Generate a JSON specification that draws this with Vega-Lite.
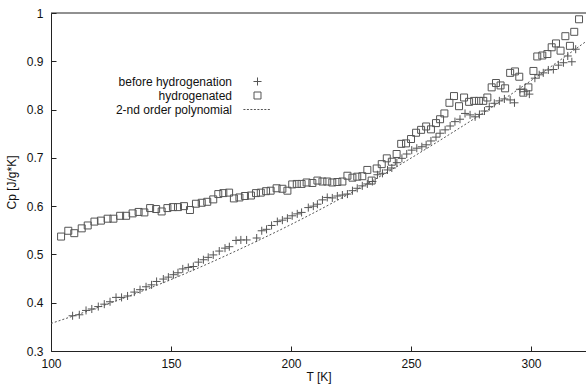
{
  "$schema": "https://vega.github.io/schema/vega-lite/v6.json",
  "width": 535,
  "height": 338,
  "autosize": "none",
  "padding": {"left": 51, "top": 13, "right": 0, "bottom": 34},
  "background": "white",
  "config": {
    "view": {"stroke": null},
    "font": "Liberation Sans",
    "axis": {
      "grid": false,
      "labelFlush": false,
      "domainColor": "#222",
      "tickColor": "#222",
      "tickSize": -5,
      "labelFont": "Liberation Sans",
      "labelFontSize": 12,
      "labelColor": "#111",
      "titleFont": "Liberation Sans",
      "titleFontSize": 12,
      "titleFontWeight": "normal",
      "titleColor": "#111"
    }
  },
  "datasets": {
    "measured": [
      {"T": 104.2, "Cp": 0.537, "series": "hydrogenated"},
      {"T": 107.2, "Cp": 0.549, "series": "hydrogenated"},
      {"T": 109.7, "Cp": 0.544, "series": "hydrogenated"},
      {"T": 112.8, "Cp": 0.554, "series": "hydrogenated"},
      {"T": 115.3, "Cp": 0.560, "series": "hydrogenated"},
      {"T": 118.1, "Cp": 0.568, "series": "hydrogenated"},
      {"T": 120.8, "Cp": 0.570, "series": "hydrogenated"},
      {"T": 123.6, "Cp": 0.574, "series": "hydrogenated"},
      {"T": 126.0, "Cp": 0.574, "series": "hydrogenated"},
      {"T": 128.8, "Cp": 0.580, "series": "hydrogenated"},
      {"T": 131.3, "Cp": 0.580, "series": "hydrogenated"},
      {"T": 134.0, "Cp": 0.585, "series": "hydrogenated"},
      {"T": 136.5, "Cp": 0.588, "series": "hydrogenated"},
      {"T": 138.9, "Cp": 0.587, "series": "hydrogenated"},
      {"T": 141.3, "Cp": 0.596, "series": "hydrogenated"},
      {"T": 143.8, "Cp": 0.594, "series": "hydrogenated"},
      {"T": 146.1, "Cp": 0.589, "series": "hydrogenated"},
      {"T": 148.5, "Cp": 0.596, "series": "hydrogenated"},
      {"T": 150.8, "Cp": 0.598, "series": "hydrogenated"},
      {"T": 152.9, "Cp": 0.598, "series": "hydrogenated"},
      {"T": 155.4, "Cp": 0.600, "series": "hydrogenated"},
      {"T": 157.9, "Cp": 0.592, "series": "hydrogenated"},
      {"T": 160.4, "Cp": 0.605, "series": "hydrogenated"},
      {"T": 162.8, "Cp": 0.607, "series": "hydrogenated"},
      {"T": 165.1, "Cp": 0.609, "series": "hydrogenated"},
      {"T": 167.6, "Cp": 0.614, "series": "hydrogenated"},
      {"T": 169.7, "Cp": 0.625, "series": "hydrogenated"},
      {"T": 171.8, "Cp": 0.627, "series": "hydrogenated"},
      {"T": 174.2, "Cp": 0.628, "series": "hydrogenated"},
      {"T": 176.2, "Cp": 0.616, "series": "hydrogenated"},
      {"T": 178.5, "Cp": 0.618, "series": "hydrogenated"},
      {"T": 180.8, "Cp": 0.621, "series": "hydrogenated"},
      {"T": 183.3, "Cp": 0.622, "series": "hydrogenated"},
      {"T": 185.4, "Cp": 0.627, "series": "hydrogenated"},
      {"T": 187.4, "Cp": 0.628, "series": "hydrogenated"},
      {"T": 189.6, "Cp": 0.631, "series": "hydrogenated"},
      {"T": 191.5, "Cp": 0.632, "series": "hydrogenated"},
      {"T": 194.0, "Cp": 0.637, "series": "hydrogenated"},
      {"T": 196.4, "Cp": 0.636, "series": "hydrogenated"},
      {"T": 198.5, "Cp": 0.632, "series": "hydrogenated"},
      {"T": 200.5, "Cp": 0.645, "series": "hydrogenated"},
      {"T": 202.4, "Cp": 0.646, "series": "hydrogenated"},
      {"T": 204.4, "Cp": 0.646, "series": "hydrogenated"},
      {"T": 206.5, "Cp": 0.649, "series": "hydrogenated"},
      {"T": 208.9, "Cp": 0.648, "series": "hydrogenated"},
      {"T": 211.0, "Cp": 0.653, "series": "hydrogenated"},
      {"T": 213.1, "Cp": 0.651, "series": "hydrogenated"},
      {"T": 215.1, "Cp": 0.651, "series": "hydrogenated"},
      {"T": 217.2, "Cp": 0.649, "series": "hydrogenated"},
      {"T": 219.3, "Cp": 0.650, "series": "hydrogenated"},
      {"T": 221.4, "Cp": 0.651, "series": "hydrogenated"},
      {"T": 223.5, "Cp": 0.663, "series": "hydrogenated"},
      {"T": 225.6, "Cp": 0.659, "series": "hydrogenated"},
      {"T": 227.6, "Cp": 0.661, "series": "hydrogenated"},
      {"T": 229.7, "Cp": 0.662, "series": "hydrogenated"},
      {"T": 231.8, "Cp": 0.675, "series": "hydrogenated"},
      {"T": 233.6, "Cp": 0.653, "series": "hydrogenated"},
      {"T": 235.7, "Cp": 0.678, "series": "hydrogenated"},
      {"T": 237.8, "Cp": 0.687, "series": "hydrogenated"},
      {"T": 239.9, "Cp": 0.699, "series": "hydrogenated"},
      {"T": 242.0, "Cp": 0.692, "series": "hydrogenated"},
      {"T": 244.0, "Cp": 0.708, "series": "hydrogenated"},
      {"T": 245.9, "Cp": 0.729, "series": "hydrogenated"},
      {"T": 247.9, "Cp": 0.730, "series": "hydrogenated"},
      {"T": 250.0, "Cp": 0.739, "series": "hydrogenated"},
      {"T": 252.1, "Cp": 0.752, "series": "hydrogenated"},
      {"T": 254.2, "Cp": 0.758, "series": "hydrogenated"},
      {"T": 256.3, "Cp": 0.765, "series": "hydrogenated"},
      {"T": 258.3, "Cp": 0.759, "series": "hydrogenated"},
      {"T": 260.4, "Cp": 0.772, "series": "hydrogenated"},
      {"T": 262.1, "Cp": 0.780, "series": "hydrogenated"},
      {"T": 263.9, "Cp": 0.792, "series": "hydrogenated"},
      {"T": 266.0, "Cp": 0.814, "series": "hydrogenated"},
      {"T": 267.9, "Cp": 0.828, "series": "hydrogenated"},
      {"T": 270.0, "Cp": 0.807, "series": "hydrogenated"},
      {"T": 272.1, "Cp": 0.825, "series": "hydrogenated"},
      {"T": 274.2, "Cp": 0.816, "series": "hydrogenated"},
      {"T": 276.3, "Cp": 0.818, "series": "hydrogenated"},
      {"T": 278.3, "Cp": 0.818, "series": "hydrogenated"},
      {"T": 280.1, "Cp": 0.818, "series": "hydrogenated"},
      {"T": 281.8, "Cp": 0.825, "series": "hydrogenated"},
      {"T": 283.6, "Cp": 0.846, "series": "hydrogenated"},
      {"T": 285.4, "Cp": 0.855, "series": "hydrogenated"},
      {"T": 287.3, "Cp": 0.850, "series": "hydrogenated"},
      {"T": 289.2, "Cp": 0.844, "series": "hydrogenated"},
      {"T": 291.3, "Cp": 0.876, "series": "hydrogenated"},
      {"T": 293.3, "Cp": 0.879, "series": "hydrogenated"},
      {"T": 295.1, "Cp": 0.868, "series": "hydrogenated"},
      {"T": 296.8, "Cp": 0.835, "series": "hydrogenated"},
      {"T": 298.9, "Cp": 0.846, "series": "hydrogenated"},
      {"T": 301.0, "Cp": 0.880, "series": "hydrogenated"},
      {"T": 302.6, "Cp": 0.910, "series": "hydrogenated"},
      {"T": 304.7, "Cp": 0.912, "series": "hydrogenated"},
      {"T": 306.8, "Cp": 0.915, "series": "hydrogenated"},
      {"T": 308.6, "Cp": 0.929, "series": "hydrogenated"},
      {"T": 310.4, "Cp": 0.937, "series": "hydrogenated"},
      {"T": 312.3, "Cp": 0.922, "series": "hydrogenated"},
      {"T": 314.3, "Cp": 0.952, "series": "hydrogenated"},
      {"T": 316.2, "Cp": 0.932, "series": "hydrogenated"},
      {"T": 318.0, "Cp": 0.961, "series": "hydrogenated"},
      {"T": 320.0, "Cp": 0.987, "series": "hydrogenated"},
      {"T": 109.0, "Cp": 0.373, "series": "before hydrogenation"},
      {"T": 111.8, "Cp": 0.375, "series": "before hydrogenation"},
      {"T": 114.6, "Cp": 0.384, "series": "before hydrogenation"},
      {"T": 117.0, "Cp": 0.387, "series": "before hydrogenation"},
      {"T": 119.7, "Cp": 0.392, "series": "before hydrogenation"},
      {"T": 122.2, "Cp": 0.397, "series": "before hydrogenation"},
      {"T": 124.6, "Cp": 0.402, "series": "before hydrogenation"},
      {"T": 127.1, "Cp": 0.411, "series": "before hydrogenation"},
      {"T": 129.4, "Cp": 0.411, "series": "before hydrogenation"},
      {"T": 131.9, "Cp": 0.414, "series": "before hydrogenation"},
      {"T": 134.7, "Cp": 0.422, "series": "before hydrogenation"},
      {"T": 137.1, "Cp": 0.427, "series": "before hydrogenation"},
      {"T": 139.6, "Cp": 0.433, "series": "before hydrogenation"},
      {"T": 141.9, "Cp": 0.437, "series": "before hydrogenation"},
      {"T": 144.0, "Cp": 0.444, "series": "before hydrogenation"},
      {"T": 146.8, "Cp": 0.449, "series": "before hydrogenation"},
      {"T": 148.9, "Cp": 0.453, "series": "before hydrogenation"},
      {"T": 151.0, "Cp": 0.458, "series": "before hydrogenation"},
      {"T": 152.9, "Cp": 0.462, "series": "before hydrogenation"},
      {"T": 154.9, "Cp": 0.470, "series": "before hydrogenation"},
      {"T": 157.2, "Cp": 0.473, "series": "before hydrogenation"},
      {"T": 159.3, "Cp": 0.475, "series": "before hydrogenation"},
      {"T": 161.4, "Cp": 0.484, "series": "before hydrogenation"},
      {"T": 163.5, "Cp": 0.489, "series": "before hydrogenation"},
      {"T": 165.5, "Cp": 0.494, "series": "before hydrogenation"},
      {"T": 167.6, "Cp": 0.499, "series": "before hydrogenation"},
      {"T": 170.1, "Cp": 0.507, "series": "before hydrogenation"},
      {"T": 172.5, "Cp": 0.513, "series": "before hydrogenation"},
      {"T": 174.3, "Cp": 0.516, "series": "before hydrogenation"},
      {"T": 177.1, "Cp": 0.529, "series": "before hydrogenation"},
      {"T": 179.1, "Cp": 0.530, "series": "before hydrogenation"},
      {"T": 181.5, "Cp": 0.530, "series": "before hydrogenation"},
      {"T": 185.7, "Cp": 0.534, "series": "before hydrogenation"},
      {"T": 187.8, "Cp": 0.549, "series": "before hydrogenation"},
      {"T": 189.8, "Cp": 0.552, "series": "before hydrogenation"},
      {"T": 191.9, "Cp": 0.560, "series": "before hydrogenation"},
      {"T": 194.3, "Cp": 0.568, "series": "before hydrogenation"},
      {"T": 196.4, "Cp": 0.571, "series": "before hydrogenation"},
      {"T": 198.5, "Cp": 0.575, "series": "before hydrogenation"},
      {"T": 200.5, "Cp": 0.580, "series": "before hydrogenation"},
      {"T": 202.6, "Cp": 0.584, "series": "before hydrogenation"},
      {"T": 204.4, "Cp": 0.587, "series": "before hydrogenation"},
      {"T": 207.2, "Cp": 0.597, "series": "before hydrogenation"},
      {"T": 209.3, "Cp": 0.600, "series": "before hydrogenation"},
      {"T": 211.0, "Cp": 0.604, "series": "before hydrogenation"},
      {"T": 213.1, "Cp": 0.613, "series": "before hydrogenation"},
      {"T": 215.1, "Cp": 0.618, "series": "before hydrogenation"},
      {"T": 217.2, "Cp": 0.617, "series": "before hydrogenation"},
      {"T": 219.3, "Cp": 0.621, "series": "before hydrogenation"},
      {"T": 221.4, "Cp": 0.623, "series": "before hydrogenation"},
      {"T": 223.5, "Cp": 0.625, "series": "before hydrogenation"},
      {"T": 225.6, "Cp": 0.632, "series": "before hydrogenation"},
      {"T": 227.6, "Cp": 0.637, "series": "before hydrogenation"},
      {"T": 229.7, "Cp": 0.642, "series": "before hydrogenation"},
      {"T": 231.8, "Cp": 0.646, "series": "before hydrogenation"},
      {"T": 233.9, "Cp": 0.651, "series": "before hydrogenation"},
      {"T": 236.0, "Cp": 0.665, "series": "before hydrogenation"},
      {"T": 238.1, "Cp": 0.668, "series": "before hydrogenation"},
      {"T": 240.2, "Cp": 0.675, "series": "before hydrogenation"},
      {"T": 242.0, "Cp": 0.679, "series": "before hydrogenation"},
      {"T": 244.1, "Cp": 0.690, "series": "before hydrogenation"},
      {"T": 246.2, "Cp": 0.699, "series": "before hydrogenation"},
      {"T": 248.2, "Cp": 0.708, "series": "before hydrogenation"},
      {"T": 250.3, "Cp": 0.716, "series": "before hydrogenation"},
      {"T": 252.4, "Cp": 0.720, "series": "before hydrogenation"},
      {"T": 254.5, "Cp": 0.723, "series": "before hydrogenation"},
      {"T": 256.3, "Cp": 0.727, "series": "before hydrogenation"},
      {"T": 258.3, "Cp": 0.735, "series": "before hydrogenation"},
      {"T": 260.4, "Cp": 0.743, "series": "before hydrogenation"},
      {"T": 262.1, "Cp": 0.751, "series": "before hydrogenation"},
      {"T": 264.2, "Cp": 0.758, "series": "before hydrogenation"},
      {"T": 266.3, "Cp": 0.766, "series": "before hydrogenation"},
      {"T": 268.3, "Cp": 0.775, "series": "before hydrogenation"},
      {"T": 270.4, "Cp": 0.780, "series": "before hydrogenation"},
      {"T": 272.5, "Cp": 0.792, "series": "before hydrogenation"},
      {"T": 274.6, "Cp": 0.789, "series": "before hydrogenation"},
      {"T": 276.7, "Cp": 0.785, "series": "before hydrogenation"},
      {"T": 278.5, "Cp": 0.790, "series": "before hydrogenation"},
      {"T": 280.6, "Cp": 0.797, "series": "before hydrogenation"},
      {"T": 282.6, "Cp": 0.806, "series": "before hydrogenation"},
      {"T": 284.7, "Cp": 0.813, "series": "before hydrogenation"},
      {"T": 286.8, "Cp": 0.818, "series": "before hydrogenation"},
      {"T": 288.9, "Cp": 0.822, "series": "before hydrogenation"},
      {"T": 291.3, "Cp": 0.820, "series": "before hydrogenation"},
      {"T": 293.1, "Cp": 0.814, "series": "before hydrogenation"},
      {"T": 295.4, "Cp": 0.842, "series": "before hydrogenation"},
      {"T": 297.2, "Cp": 0.837, "series": "before hydrogenation"},
      {"T": 299.3, "Cp": 0.832, "series": "before hydrogenation"},
      {"T": 301.6, "Cp": 0.865, "series": "before hydrogenation"},
      {"T": 303.4, "Cp": 0.872, "series": "before hydrogenation"},
      {"T": 305.1, "Cp": 0.876, "series": "before hydrogenation"},
      {"T": 307.2, "Cp": 0.882, "series": "before hydrogenation"},
      {"T": 309.3, "Cp": 0.883, "series": "before hydrogenation"},
      {"T": 311.4, "Cp": 0.892, "series": "before hydrogenation"},
      {"T": 313.5, "Cp": 0.897, "series": "before hydrogenation"},
      {"T": 315.3, "Cp": 0.911, "series": "before hydrogenation"},
      {"T": 317.0, "Cp": 0.899, "series": "before hydrogenation"},
      {"T": 318.6, "Cp": 0.925, "series": "before hydrogenation"}
    ],
    "poly": [
      {"T": 100, "Cp": 0.357},
      {"T": 120, "Cp": 0.391},
      {"T": 140, "Cp": 0.428},
      {"T": 160, "Cp": 0.469},
      {"T": 180, "Cp": 0.514},
      {"T": 200, "Cp": 0.562},
      {"T": 220, "Cp": 0.614},
      {"T": 240, "Cp": 0.670},
      {"T": 260, "Cp": 0.730},
      {"T": 280, "Cp": 0.793},
      {"T": 300, "Cp": 0.860},
      {"T": 322.9, "Cp": 0.941}
    ],
    "border": [
      {"Cp": 1}
    ]
  },
  "layer": [
    {
      "data": {"name": "border"},
      "mark": {"type": "rule", "color": "#222", "strokeWidth": 1},
      "encoding": {
        "y": {"field": "Cp", "type": "quantitative"}
      }
    },
    {
      "data": {"name": "poly"},
      "mark": {"type": "line", "color": "#555", "strokeWidth": 1, "strokeDash": [2, 2], "interpolate": "monotone"},
      "encoding": {
        "x": {"field": "T", "type": "quantitative"},
        "y": {"field": "Cp", "type": "quantitative"}
      }
    },
    {
      "data": {"name": "measured"},
      "mark": {"type": "point", "filled": false, "strokeWidth": 1, "opacity": 1, "size": 180, "color": "#555"},
      "encoding": {
        "x": {
          "field": "T", "type": "quantitative",
          "scale": {"domain": [100, 322.9], "nice": false, "zero": false},
          "axis": {"values": [100, 150, 200, 250, 300], "title": "T [K]", "labelPadding": 12, "titlePadding": 2, "labelFlush": false}
        },
        "y": {
          "field": "Cp", "type": "quantitative",
          "scale": {"domain": [0.3, 1], "nice": false, "zero": false},
          "axis": {"values": [0.3, 0.4, 0.5, 0.6, 0.7, 0.8, 0.9, 1], "format": "~g", "title": "Cp [J/g*K]", "labelPadding": 13, "titlePadding": 8, "labelFlush": false}
        },
        "shape": {
          "field": "series", "type": "nominal",
          "scale": {
            "domain": ["before hydrogenation", "hydrogenated", "2-nd order polynomial"],
            "range": [
              "M-0.6,0H0.6M0,-0.6V0.6",
              "M-0.52,-0.52H0.52V0.52H-0.52Z",
              "M-2.1,0H-1.8M-1.58,0H-1.28M-1.06,0H-0.76M-0.54,0H-0.24M-0.02,0H0.28M0.5,0H0.8M1.02,0H1.32M1.54,0H1.84"
            ]
          },
          "legend": {
            "orient": "none",
            "legendX": 199,
            "legendY": 61,
            "title": null,
            "padding": 0,
            "symbolSize": 180,
            "symbolStrokeColor": "#555",
            "symbolFillColor": "transparent",
            "symbolStrokeWidth": 1,
            "symbolOpacity": 1,
            "labelAlign": "right",
            "labelOffset": -33,
            "labelFontSize": 12,
            "labelFont": "Liberation Sans",
            "labelColor": "#111",
            "rowPadding": 0
          }
        }
      }
    }
  ]
}
